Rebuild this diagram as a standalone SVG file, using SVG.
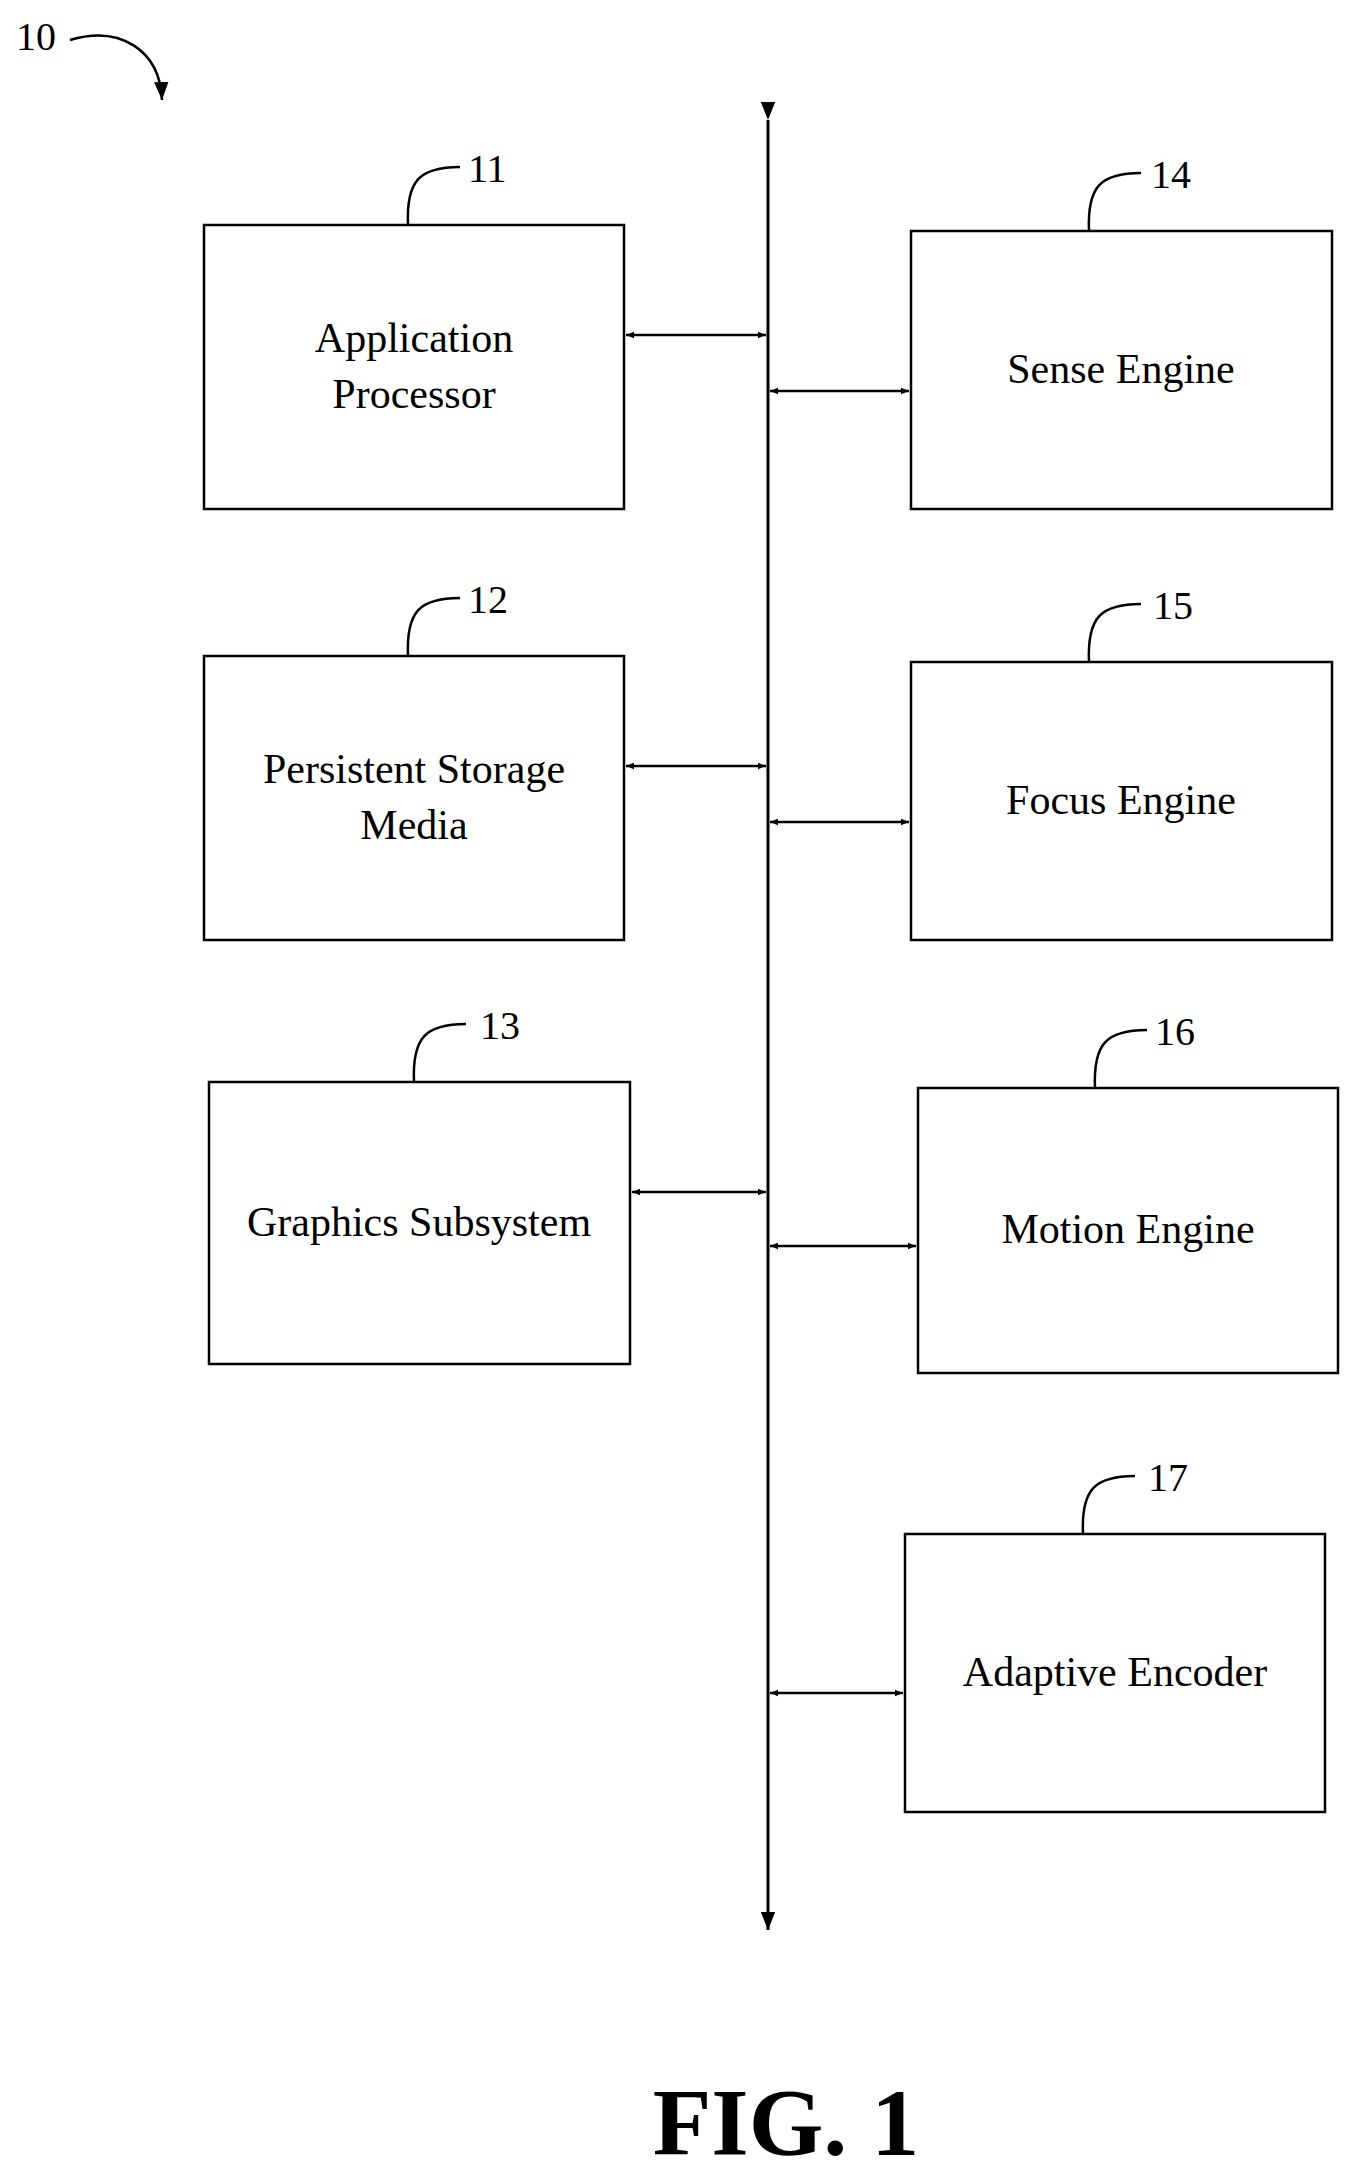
<svg xmlns="http://www.w3.org/2000/svg" width="1356" height="2173" viewBox="0 0 1356 2173">
<style>
.b{fill:#fff;stroke:#000;stroke-width:2.5}
.t{font-family:"Liberation Serif",serif;font-size:42px;text-anchor:middle;fill:#000}
.n{font-family:"Liberation Serif",serif;font-size:40px;fill:#000}
.l{fill:none;stroke:#000;stroke-width:2.5}
.c{stroke:#000;stroke-width:2.5;marker-start:url(#a);marker-end:url(#a)}
</style>
<defs><marker id="a" viewBox="0 0 10 10" refX="10" refY="5" markerWidth="8" markerHeight="8" orient="auto-start-reverse" markerUnits="userSpaceOnUse"><path d="M0,1 L10,5 L0,9 Z" fill="#000"/></marker>
<marker id="h" viewBox="0 0 10 10" refX="10" refY="5" markerWidth="18" markerHeight="18" orient="auto" markerUnits="userSpaceOnUse"><path d="M0,1 L10,5 L0,9 Z" fill="#000"/></marker></defs>
<g id="ref10"><text class="n" x="16" y="50">10</text><path class="l" d="M70,40 C120,25 160,50 162,100" marker-end="url(#h)"/></g>
<g id="connectors">
<line x1="768" y1="120" x2="768" y2="1930" stroke="#000" stroke-width="3" marker-start="url(#h)" marker-end="url(#h)"/>
<line class="c" x1="626" y1="335" x2="766" y2="335"/>
<line class="c" x1="770" y1="391" x2="909" y2="391"/>
<line class="c" x1="626" y1="766" x2="766" y2="766"/>
<line class="c" x1="770" y1="822" x2="909" y2="822"/>
<line class="c" x1="632" y1="1192" x2="766" y2="1192"/>
<line class="c" x1="770" y1="1246" x2="916" y2="1246"/>
<line class="c" x1="770" y1="1693" x2="903" y2="1693"/>
</g>
<g id="n11"><rect class="b" x="204" y="225" width="420" height="284"/><text class="t" x="414" y="352">Application</text><text class="t" x="414" y="408">Processor</text><path class="l" d="M408,225 C406,180 420,167 460,167"/><text class="n" x="468" y="182">11</text></g>
<g id="n12"><rect class="b" x="204" y="656" width="420" height="284"/><text class="t" x="414" y="783">Persistent Storage</text><text class="t" x="414" y="839">Media</text><path class="l" d="M408,656 C406,611 420,598 460,598"/><text class="n" x="468" y="613">12</text></g>
<g id="n13"><rect class="b" x="209" y="1082" width="421" height="282"/><text class="t" x="419" y="1236">Graphics Subsystem</text><path class="l" d="M414,1082 C412,1037 426,1024 466,1024"/><text class="n" x="480" y="1039">13</text></g>
<g id="n14"><rect class="b" x="911" y="231" width="421" height="278"/><text class="t" x="1121" y="383">Sense Engine</text><path class="l" d="M1089,231 C1087,186 1101,173 1141,173"/><text class="n" x="1151" y="188">14</text></g>
<g id="n15"><rect class="b" x="911" y="662" width="421" height="278"/><text class="t" x="1121" y="814">Focus Engine</text><path class="l" d="M1089,662 C1087,617 1101,604 1141,604"/><text class="n" x="1153" y="619">15</text></g>
<g id="n16"><rect class="b" x="918" y="1088" width="420" height="285"/><text class="t" x="1128" y="1243">Motion Engine</text><path class="l" d="M1095,1088 C1093,1043 1107,1030 1147,1030"/><text class="n" x="1155" y="1045">16</text></g>
<g id="n17"><rect class="b" x="905" y="1534" width="420" height="278"/><text class="t" x="1115" y="1686">Adaptive Encoder</text><path class="l" d="M1083,1534 C1081,1489 1095,1476 1135,1476"/><text class="n" x="1148" y="1491">17</text></g>
<text x="786" y="2155" font-family="Liberation Serif,serif" font-size="96" font-weight="bold" text-anchor="middle">FIG. 1</text>
</svg>
